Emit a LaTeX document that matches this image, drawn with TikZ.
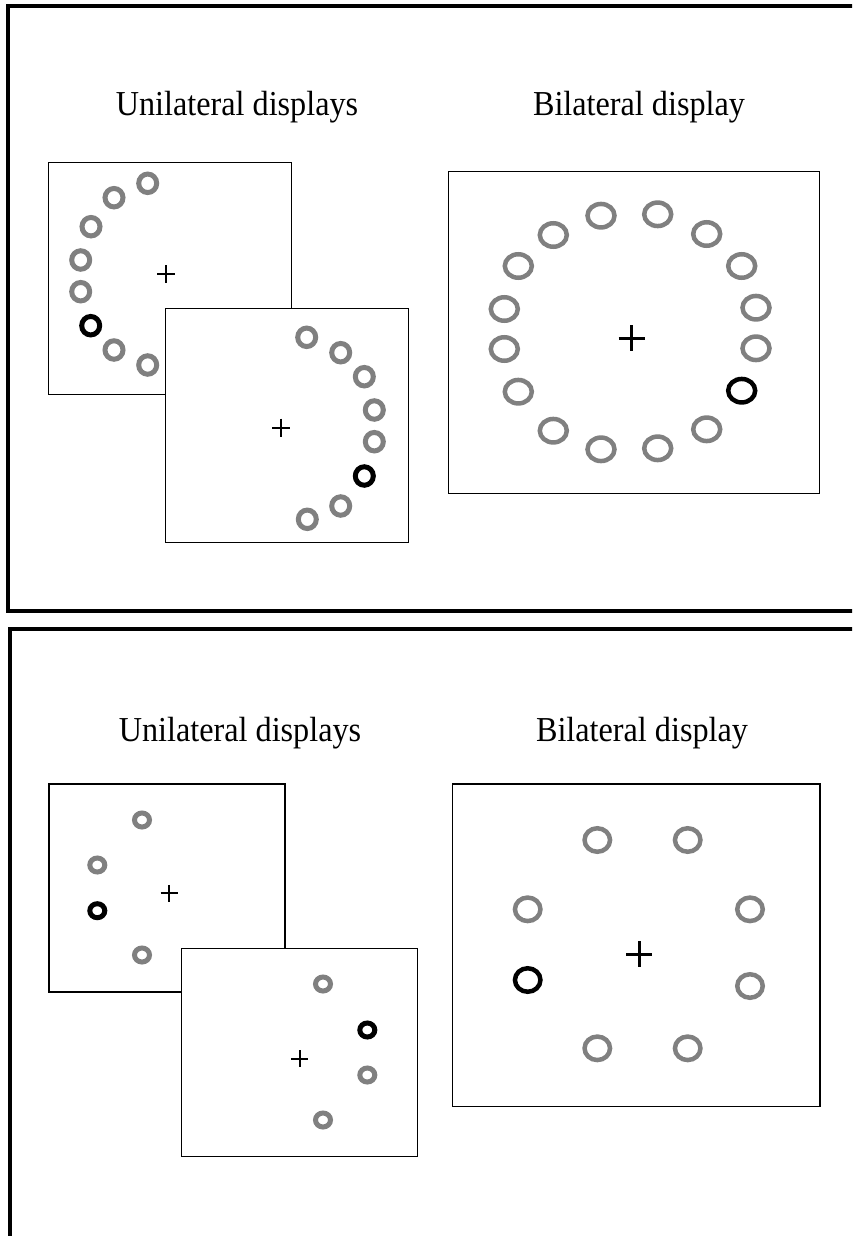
\documentclass[tikz,border=0pt]{standalone}
\usepackage{fontspec}
\usepackage{graphicx}
\setmainfont{Liberation Serif}
\usetikzlibrary{shapes.geometric}
\definecolor{ringgray}{RGB}{128,128,128}
\newcommand{\headtext}[1]{\scalebox{0.92}[1]{#1}}
\tikzset{
  frame/.style={line width=3.5pt},
  dispbox/.style={draw, fill=white, line width=1.3pt, inner sep=0pt, anchor=north west},
  title/.style={font=\fontsize{35}{40}\selectfont, anchor=base, inner sep=0pt},
  ring/.style={ellipse, draw=ringgray, inner sep=0pt},
  hit/.style={draw=black},
  ringA/.style={ring, line width=5pt, minimum width=18pt, minimum height=18.5pt},
  ringB/.style={ring, line width=4.5pt, minimum width=27pt, minimum height=23.5pt},
  ringC/.style={ring, line width=5pt, minimum width=15pt, minimum height=14pt},
  ringD/.style={ring, line width=4.5pt, minimum width=25.5pt, minimum height=23.5pt},
  fixsmall/.style={line width=1.8pt},
  fixbig/.style={line width=3pt}
}
\begin{document}
\begin{tikzpicture}[x=1pt,y=-1pt]
\useasboundingbox (0,0) rectangle (852,1236);
\clip (0,0) rectangle (852,1236);
\fill[white] (0,0) rectangle (852,1236);

% ---------- upper panel ----------
\draw[frame] (8,6) rectangle (900,611);
\node[title] (tt1) at (237,116) {\headtext{Unilateral displays}};
\node[title] (tt2) at (639,116) {\headtext{Bilateral display}};

% left-field display
\node[dispbox, minimum width=243pt, minimum height=232pt] (tu1) at (48,162) {};
\coordinate (tu1c) at (166,274);
\draw[fixsmall] (tu1c) +(-9,0) -- +(9,0) (tu1c) +(0,-9) -- +(0,9);
\node[ringA] (a1) at (147.7,183.3) {};
\node[ringA] (a2) at (114,197.7) {};
\node[ringA] (a3) at (91,226.7) {};
\node[ringA] (a4) at (80.7,260) {};
\node[ringA] (a5) at (80.7,291.7) {};
\node[ringA, hit] (a6) at (90.7,325.7) {};
\node[ringA] (a7) at (114,350) {};
\node[ringA] (a8) at (147.7,365) {};

% right-field display
\node[dispbox, minimum width=243pt, minimum height=234pt] (tu2) at (165,308) {};
\coordinate (tu2c) at (281,427.7);
\draw[fixsmall] (tu2c) +(-9,0) -- +(9,0) (tu2c) +(0,-9) -- +(0,9);
\node[ringA] (b1) at (306.7,337.3) {};
\node[ringA] (b2) at (340.7,352.7) {};
\node[ringA] (b3) at (364.3,376.7) {};
\node[ringA] (b4) at (374.3,410) {};
\node[ringA] (b5) at (374.3,441.7) {};
\node[ringA, hit] (b6) at (364.3,476) {};
\node[ringA] (b7) at (340.7,506) {};
\node[ringA] (b8) at (307.3,519.3) {};

% bilateral display
\node[dispbox, minimum width=371pt, minimum height=322pt] (tb) at (448,171) {};
\coordinate (tbc) at (631.7,338.3);
\draw[fixbig] (tbc) +(-13,0) -- +(13,0) (tbc) +(0,-13) -- +(0,13);
\node[ringB] (c1) at (601,215.7) {};
\node[ringB] (c2) at (657.7,214.3) {};
\node[ringB] (c3) at (706.7,234) {};
\node[ringB] (c4) at (741.7,266) {};
\node[ringB] (c5) at (756,307.7) {};
\node[ringB] (c6) at (756,348.3) {};
\node[ringB, hit] (c7) at (741.7,390.7) {};
\node[ringB] (c8) at (706.7,429.3) {};
\node[ringB] (c9) at (657.7,448.3) {};
\node[ringB] (c10) at (601,449.3) {};
\node[ringB] (c11) at (553.3,430.7) {};
\node[ringB] (c12) at (518.3,391.7) {};
\node[ringB] (c13) at (504.3,349) {};
\node[ringB] (c14) at (504.3,309) {};
\node[ringB] (c15) at (518.3,266) {};
\node[ringB] (c16) at (553.3,235) {};

% ---------- lower panel ----------
\draw[frame] (10,629) rectangle (900,1300);
\node[title] (bt1) at (240,741) {\headtext{Unilateral displays}};
\node[title] (bt2) at (642,741) {\headtext{Bilateral display}};

% left-field display
\node[dispbox, line width=2.4pt, minimum width=236pt, minimum height=208pt] (bu1) at (48,782.5) {};
\coordinate (bu1c) at (169,893.3);
\draw[fixsmall] (bu1c) +(-8.5,0) -- +(8.5,0) (bu1c) +(0,-8.5) -- +(0,8.5);
\node[ringC] (d1) at (142,820) {};
\node[ringC] (d2) at (97.3,865) {};
\node[ringC, hit] (d3) at (97.3,910.7) {};
\node[ringC] (d4) at (142,955) {};

% right-field display
\node[dispbox, minimum width=236pt, minimum height=208pt] (bu2) at (180.7,947.7) {};
\coordinate (bu2c) at (299.7,1058.7);
\draw[fixsmall] (bu2c) +(-8.5,0) -- +(8.5,0) (bu2c) +(0,-8.5) -- +(0,8.5);
\node[ringC] (e1) at (323,984) {};
\node[ringC, hit] (e2) at (367.3,1030) {};
\node[ringC] (e3) at (367.3,1075) {};
\node[ringC] (e4) at (323,1120) {};

% bilateral display
\node[dispbox, minimum width=367.6pt, minimum height=322.7pt] (bb) at (451.7,783.3) {};
\coordinate (bbc) at (639.3,954);
\draw[fixbig] (bbc) +(-13,0) -- +(13,0) (bbc) +(0,-13) -- +(0,13);
\node[ringD] (f1) at (597.3,840) {};
\node[ringD] (f2) at (687.7,840) {};
\node[ringD] (f3) at (750,909.3) {};
\node[ringD] (f4) at (750,986) {};
\node[ringD] (f5) at (687.7,1048.3) {};
\node[ringD] (f6) at (597.3,1048.3) {};
\node[ringD, hit] (f7) at (527.7,980) {};
\node[ringD] (f8) at (527.7,909.3) {};
\end{tikzpicture}
\end{document}
